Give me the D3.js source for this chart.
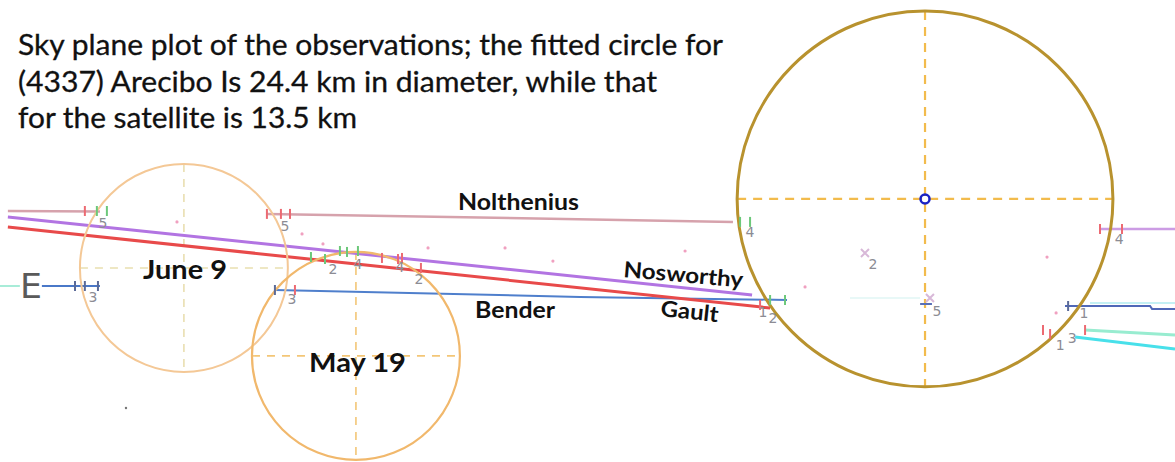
<!DOCTYPE html>
<html>
<head>
<meta charset="utf-8">
<script src="https://cdn.jsdelivr.net/npm/d3@7"></script>
<style>
  html, body { margin: 0; padding: 0; background: #fff; }
  svg { display: block; }
</style>
</head>
<body>
<svg width="1175" height="462"></svg>
<script>
"use strict";

// sky plane coordinates in km, origin at the centre of the fitted Arecibo circle
// x grows to the west (right on screen), y grows to the north (up)

const titleLines = [
  "Sky plane plot of the observations; the fitted circle for",
  "(4337) Arecibo Is 24.4 km in diameter, while that",
  "for the satellite is 13.5 km",
];

// fitted profiles: name, centre, radius (km)
const circleNames = ["Arecibo", "June 9", "May 19"];
const circleCentres = [[0, 0], [-48.12, -4.48], [-36.95, -10.19]];
const circleRadii = [12.2, 6.75, 6.75];

// observer chords (km)
const noltheniusWest = [[-59.55, -0.78], [-53.57, -0.81]];
const noltheniusEast = [[-42.73, -0.97], [-12.47, -1.49]];
const nosworthy = [[-59.55, -1.17], [-11.23, -6.23]];
const gault = [[-59.55, -1.82], [-10.06, -7.08]];
const bender = [[-42.21, -5.91], [-22.4, -6.36], [-8.96, -6.56]];
const benderWest = [[-57.34, -5.65], [-53.57, -5.65]];
const cyanStub = [[-60.06, -5.65], [-58.77, -5.65]];
const rightBlue = [[9.09, -6.95], [14.61, -6.95], [14.74, -7.14], [16.23, -7.14]];
const rightFaintCyan = [[10.71, -6.75], [16.23, -6.75]];
const rightGreenCyan = [[10.39, -8.51], [16.23, -8.83]];
const rightCyan = [[9.74, -8.96], [16.23, -9.74]];
const rightLilac = [[11.36, -1.95], [16.23, -1.95]];
const innerCyan = [[-4.87, -6.43], [-0.32, -6.43]];
const innerBlue = [[-0.32, -6.82], [0.45, -6.82]];

// timing marks (km)
const redTicks = [
  [-54.55, -0.78], [-42.73, -0.97], [-41.82, -0.97], [-41.23, -0.97],
  [-40.91, -5.91], [-35.26, -3.83], [-34.22, -3.9], [-33.96, -3.83],
  [-32.73, -4.48], [-10.71, -6.88], [7.66, -8.51], [8.12, -8.77],
  [10.39, -8.51], [11.36, -1.95], [12.79, -1.95],
];
const greenTicks = [
  [-53.77, -0.78], [-53.12, -0.78], [-39.87, -3.77], [-38.96, -3.9],
  [-37.99, -3.38], [-37.53, -3.44], [-36.82, -3.38], [-12.01, -1.49],
  [-11.36, -1.49], [-10.06, -6.56], [-9.09, -6.56],
];
const blueTicks = [
  [-55.19, -5.65], [-54.55, -5.65], [-53.7, -5.65], [-42.21, -5.91], [9.29, -6.95],
];

// chord numbers (km)
const numberText = ["5", "5", "3", "3", "2", "4", "4", "2", "4", "1", "2", "2", "5", "4", "1", "3", "1"];
const numberPos = [
  [-53.38, -1.56], [-41.56, -1.75], [-54.03, -6.36], [-41.1, -6.49],
  [-38.44, -4.55], [-36.82, -4.22], [-34.09, -4.42], [-32.86, -5.19],
  [-11.36, -2.14], [-10.52, -7.34], [-9.87, -7.73], [-3.38, -4.22],
  [0.78, -7.27], [12.6, -2.6], [10.32, -7.4], [9.55, -9.03], [8.77, -9.48],
];

// stray points (km)
const pinkDots = [
  [-48.57, -1.49], [-40.45, -2.27], [-39.09, -2.92], [-32.27, -3.18],
  [-27.27, -3.18], [-24.16, -4.03], [-15.58, -3.38], [-7.79, -5.71],
  [7.92, -3.77], [8.51, -7.4],
];
const crossMarks = [[-3.9, -3.51], [0.32, -6.43]];
const greyDots = [[-51.88, -13.57]];

window.addEventListener("load", drawPlot);

function drawPlot() {
  const svg = d3.select("svg");

  const x = d3.scaleLinear().domain([-60.06, 16.23]).range([0, 1175]);
  const y = d3.scaleLinear().domain([12.92, -17.08]).range([0, 462]);
  const km = (r) => x(r) - x(0);

  const line = d3.line().x((d) => x(d[0])).y((d) => y(d[1]));

  // crosshairs first so circles sit on top
  const crossStyles = [
    { color: "#f2bb4c", width: 2.2, dash: "9,7" },
    { color: "#e9dfb0", width: 1.6, dash: "8,7" },
    { color: "#f3c677", width: 1.6, dash: "8,7" },
  ];
  const circleStyles = [
    { color: "#b8922e", width: 3 },
    { color: "#f4c896", width: 2 },
    { color: "#f1b86c", width: 2.2 },
  ];

  circleNames.forEach((name, i) => {
    const [cx, cy] = circleCentres[i];
    const r = circleRadii[i];
    const st = crossStyles[i];
    svg.append("line")
      .attr("x1", x(cx - r)).attr("x2", x(cx + r))
      .attr("y1", y(cy)).attr("y2", y(cy))
      .attr("stroke", st.color).attr("stroke-width", st.width)
      .attr("stroke-dasharray", st.dash);
    svg.append("line")
      .attr("x1", x(cx)).attr("x2", x(cx))
      .attr("y1", y(cy + r)).attr("y2", y(cy - r))
      .attr("stroke", st.color).attr("stroke-width", st.width)
      .attr("stroke-dasharray", st.dash);
  });

  // chords
  const chords = [
    { d: cyanStub, c: "#a8ecd8", w: 2 },
    { d: benderWest, c: "#4a78c8", w: 2 },
    { d: noltheniusWest, c: "#d6a2ac", w: 2.5 },
    { d: noltheniusEast, c: "#d6a2ac", w: 2.5 },
    { d: innerCyan, c: "#e0f6f4", w: 1.5 },
    { d: innerBlue, c: "#5870b8", w: 2 },
    { d: rightFaintCyan, c: "#c4f0f4", w: 2 },
    { d: rightBlue, c: "#5068b8", w: 2 },
    { d: rightGreenCyan, c: "#98ecd0", w: 3 },
    { d: rightCyan, c: "#48e0ea", w: 3 },
    { d: rightLilac, c: "#cc9ce4", w: 2.5 },
    { d: bender, c: "#4f7fcc", w: 2 },
    { d: gault, c: "#e84a4a", w: 3 },
    { d: nosworthy, c: "#b274e2", w: 3 },
  ];
  svg.selectAll(".chord")
    .data(chords)
    .enter()
    .append("path")
    .attr("class", "chord")
    .attr("d", (d) => line(d.d))
    .attr("fill", "none")
    .attr("stroke", (d) => d.c)
    .attr("stroke-width", (d) => d.w);

  // circles
  circleNames.forEach((name, i) => {
    const [cx, cy] = circleCentres[i];
    svg.append("circle")
      .attr("cx", x(cx)).attr("cy", y(cy))
      .attr("r", km(circleRadii[i]))
      .attr("fill", "none")
      .attr("stroke", circleStyles[i].color)
      .attr("stroke-width", circleStyles[i].width);
  });

  svg.append("circle")
    .attr("cx", x(0)).attr("cy", y(0)).attr("r", 4.5)
    .attr("fill", "none").attr("stroke", "#1a22c4").attr("stroke-width", 2.5);

  // timing ticks
  const tick = (data, color) =>
    svg.append("g").selectAll("line")
      .data(data)
      .enter()
      .append("line")
      .attr("x1", (d) => x(d[0])).attr("x2", (d) => x(d[0]))
      .attr("y1", (d) => y(d[1]) - 5).attr("y2", (d) => y(d[1]) + 5)
      .attr("stroke", color).attr("stroke-width", 2);
  tick(redTicks, "#ec6a72");
  tick(greenTicks, "#6cc87a");
  tick(blueTicks, "#5a6a98");

  svg.append("g").selectAll("circle")
    .data(pinkDots)
    .enter()
    .append("circle")
    .attr("cx", (d) => x(d[0])).attr("cy", (d) => y(d[1]))
    .attr("r", 1.6).attr("fill", "#f0a0c0");

  svg.append("g").selectAll("circle")
    .data(greyDots)
    .enter()
    .append("circle")
    .attr("cx", (d) => x(d[0])).attr("cy", (d) => y(d[1]))
    .attr("r", 1.2).attr("fill", "#777");

  svg.append("g").selectAll("path")
    .data(crossMarks)
    .enter()
    .append("path")
    .attr("d", (d) => {
      const px = x(d[0]), py = y(d[1]);
      return `M${px - 4},${py - 4}L${px + 4},${py + 4}M${px - 4},${py + 4}L${px + 4},${py - 4}`;
    })
    .attr("stroke", "#d8b8d8").attr("stroke-width", 2);

  svg.append("g").selectAll("text")
    .data(numberText)
    .enter()
    .append("text")
    .attr("x", (d, i) => x(numberPos[i][0]))
    .attr("y", (d, i) => y(numberPos[i][1]))
    .attr("text-anchor", "middle")
    .attr("dominant-baseline", "central")
    .style("font-family", "'DejaVu Sans', sans-serif")
    .style("font-size", "14px")
    .style("fill", "#8c8c94")
    .text((d) => d);

  // E marker
  svg.append("text")
    .attr("x", 20).attr("y", 298)
    .attr("textLength", 22).attr("lengthAdjust", "spacingAndGlyphs")
    .style("font-family", "'DejaVu Sans', sans-serif")
    .style("font-size", "34px")
    .style("fill", "#5a5a5a")
    .text("E");

  // title
  const titleWidths = [705, 639, 339];
  svg.selectAll(".title")
    .data(titleLines)
    .enter()
    .append("text")
    .attr("class", "title")
    .attr("x", 18)
    .attr("y", (d, i) => 55 + i * 36.5)
    .attr("textLength", (d, i) => titleWidths[i])
    .attr("lengthAdjust", "spacingAndGlyphs")
    .style("font-family", "Lato, 'Open Sans', sans-serif")
    .style("font-size", "28px")
    .style("fill", "#111")
    .style("stroke", "#111")
    .style("stroke-width", "0.3px")
    .text((d) => d);

  // bold chord / profile labels
  const labels = [
    { t: "Nolthenius", x: 458, y: 210, w: 121, s: 22, rot: 0 },
    { t: "June 9", x: 143, y: 279, w: 84, s: 26, rot: 0 },
    { t: "May 19", x: 309, y: 372, w: 97, s: 27, rot: 0 },
    { t: "Bender", x: 475, y: 318, w: 80, s: 22, rot: 0 },
    { t: "Nosworthy", x: 623, y: 277, w: 120, s: 22, rot: 5 },
    { t: "Gault", x: 660, y: 316, w: 58, s: 22, rot: 6 },
  ];
  svg.selectAll(".label")
    .data(labels)
    .enter()
    .append("text")
    .attr("class", "label")
    .attr("transform", (d) => `translate(${d.x},${d.y}) rotate(${d.rot})`)
    .attr("textLength", (d) => d.w)
    .attr("lengthAdjust", "spacingAndGlyphs")
    .style("font-family", "Lato, 'Open Sans', sans-serif")
    .style("font-weight", "700")
    .style("font-size", (d) => d.s + "px")
    .style("fill", "#111")
    .text((d) => d.t);
}
</script>
</body>
</html>
